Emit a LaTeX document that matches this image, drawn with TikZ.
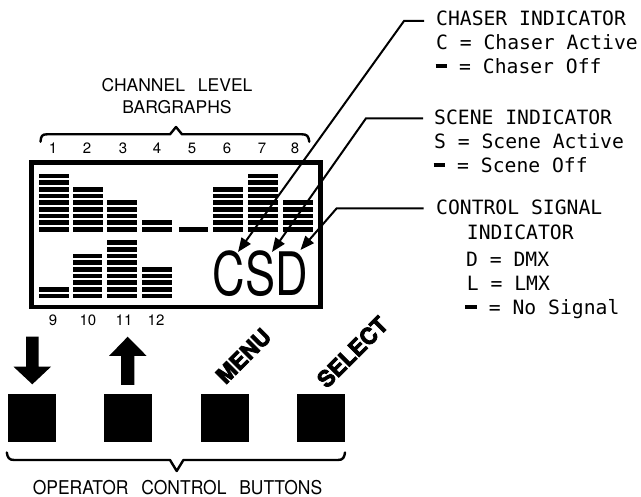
\documentclass[tikz,border=0pt]{standalone}
\usepackage{fontspec}
\setmainfont{TeX Gyre Heros}
\newfontfamily\monof{DejaVu Sans Mono}
\newfontfamily\heavyf{TeX Gyre Heros}[BoldFeatures={FakeBold=3.5}]
\usetikzlibrary{arrows.meta}
\tikzset{
  leader/.style={line width=2pt, -{Triangle[length=14pt,width=11pt]}},
  bracepath/.style={line width=2.4pt, line join=round, line cap=round},
  btn/.style={fill=black, minimum size=48pt, inner sep=0pt, draw=none},
  seg/.style={fill=black},
  monotxt/.style={font=\monof\fontsize{19.7}{23}\selectfont, anchor=base west, inner sep=0pt},
  digit/.style={font=\fontsize{15}{15}\selectfont, anchor=base, inner sep=0pt},
  title/.style={font=\fontsize{17.5}{21}\selectfont, anchor=base, inner sep=0pt},
  btnlabel/.style={font=\heavyf\bfseries\fontsize{22.5}{23}\selectfont, rotate=45, inner sep=0pt}
}
\newcommand{\dashbar}{\rule[0.25em]{0.602em}{0.2em}}
\begin{document}
\begin{tikzpicture}[x=1pt,y=-1pt]
\useasboundingbox (0,0) rectangle (641,497);

% titles
\node[title] (t1) at (177,91.7) {CHANNEL\hspace{13pt}LEVEL};
\node[title] (t2) at (177,114) {BARGRAPHS};

% top brace
\draw[bracepath] (40.5,141.7) .. controls (41,136) and (42,134.3) .. (47,134.3)
  -- (170,134.3) -- (176,127) -- (182,134.3) -- (302,134.3)
  .. controls (307,134.3) and (308.5,136) .. (309.3,141.7);

% channel numbers
\foreach \x/\t in {53/1, 87/2, 123/3, 157/4, 192/5, 227/6, 262/7, 295/8}
  \node[digit] (n\t) at (\x,154) {\t};
\foreach \x/\t in {53/9, 88/10, 124/11, 156/12}
  \node[digit] (n\t) at (\x,326) {\t};

% display box
\draw[line width=4.6pt] (31.6,162.4) rectangle (320.6,306.9);

% bargraph segments, top row
\foreach \x/\n in {39.3/9, 72.7/7, 107/5, 142/2, 178.5/1, 213.3/7, 248.3/9, 283.3/5}
  \foreach \k in {1,...,\n}
    \fill[seg] (\x,{231.6-6.67*(\k-1)}) rectangle ++(29.8,-4.6);
% bottom row
\foreach \x/\n in {39/2, 72.7/7, 107/9, 142.3/5}
  \foreach \k in {1,...,\n}
    \fill[seg] (\x,{298.4-6.67*(\k-1)}) rectangle ++(29.6,-4.6);

% CSD
\node[font=\fontsize{60}{60}\selectfont, anchor=base west, inner sep=0pt] (csd) at (212.5,296)
  {\scalebox{0.75}[1]{CSD}};

% arrow tips
\coordinate (ctip) at (238,252);
\coordinate (stip) at (272,252);
\coordinate (dtip) at (300.5,250);

% right side text
\node[monotxt] (ch1) at (436,26) {CHASER INDICATOR};
\node[monotxt] (ch2) at (436,50) {C = Chaser Active};
\node[monotxt] (ch3) at (435.3,73.3) {\dashbar{} = Chaser Off};
\node[monotxt] (sc1) at (434,124.3) {SCENE INDICATOR};
\node[monotxt] (sc2) at (434,148.3) {S = Scene Active};
\node[monotxt] (sc3) at (433.3,172.3) {\dashbar{} = Scene Off};
\node[monotxt] (cs1) at (436,215) {CONTROL SIGNAL};
\node[monotxt] (cs2) at (466.7,239.3) {INDICATOR};
\node[monotxt] (cs3) at (466,266.7) {D = DMX};
\node[monotxt] (cs4) at (466.7,290.7) {L = LMX};
\node[monotxt] (cs5) at (465,314.3) {\dashbar{} = No Signal};

% leader lines
\coordinate (ca) at (424,21);
\coordinate (cb) at (404,21);
\coordinate (sa) at (423,118.3);
\coordinate (sb) at (366,118.3);
\coordinate (da) at (423.5,208.3);
\coordinate (db) at (336.7,208.3);
\draw[leader] (ca) -- (cb) -- (ctip);
\draw[leader] (sa) -- (sb) -- (stip);
\draw[leader] (da) -- (db) -- (dtip);

% buttons
\node[btn] (b1) at (32.2,418) {};
\node[btn] (b2) at (128,418) {};
\node[btn] (b3) at (224.8,418) {};
\node[btn] (b4) at (320.8,418) {};

% arrows above buttons
\fill (26,336.7) -- (38.7,336.7) -- (38.7,366.7) -- (51,366.7) -- (32.3,384.3)
  -- (13.5,366.7) -- (26,366.7) -- cycle;
\fill (121,385) -- (134.3,385) -- (134.3,356) -- (146.7,356) -- (127.7,336.7)
  -- (109,356) -- (121,356) -- cycle;

% rotated labels
\node[btnlabel] (menu) at (243.5,356) {MENU};
\node[btnlabel] (select) at (352.5,352) {SELECT};

% bottom brace
\draw[bracepath] (6.8,452.5) .. controls (7.5,457.5) and (9,460) .. (14,460)
  -- (170,460) -- (176.7,471) -- (183.4,460) -- (338,460)
  .. controls (343,460) and (344.3,457.5) .. (345,452.5);

\node[font=\fontsize{19}{20}\selectfont, anchor=base, inner sep=0pt] (obtn) at (177.5,494.5)
  {\scalebox{0.92}[1]{OPERATOR\hspace{14pt}CONTROL\hspace{14pt}BUTTONS}};
\end{tikzpicture}
\end{document}
